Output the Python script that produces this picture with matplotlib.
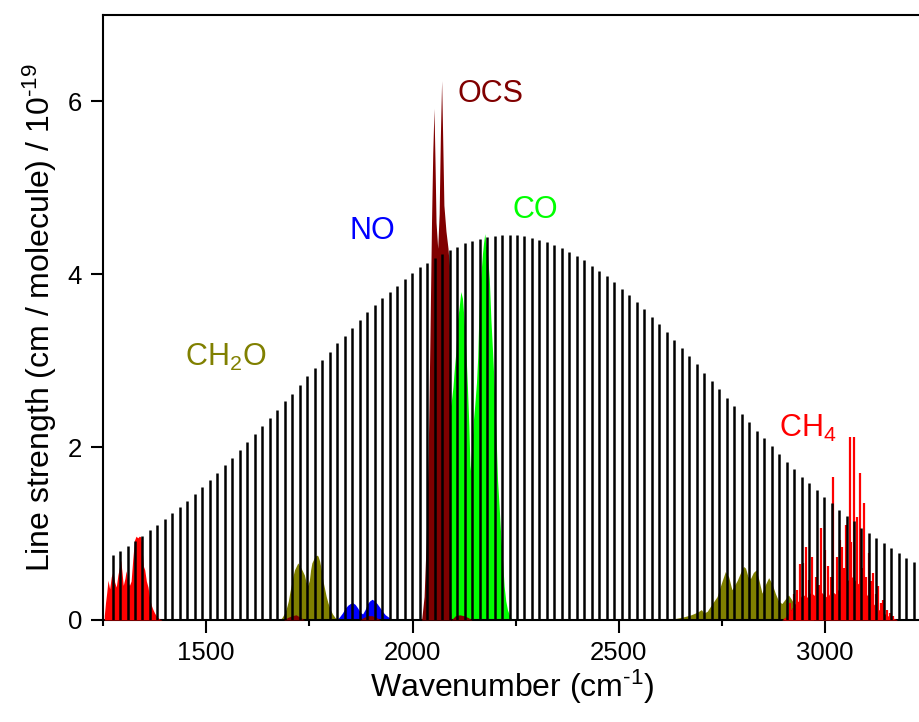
import matplotlib
matplotlib.use("Agg")
import matplotlib.pyplot as plt
from matplotlib.ticker import MultipleLocator

plt.rcParams['font.family'] = ['Liberation Sans', 'DejaVu Sans']
plt.rcParams['mathtext.fontset'] = 'custom'
plt.rcParams['mathtext.rm'] = 'Liberation Sans'
plt.rcParams['mathtext.it'] = 'Liberation Sans'

# frequency comb lines (position in cm-1, height)
comb_x = [1273.0, 1291.2, 1309.3, 1327.5, 1345.6, 1363.8, 1381.9, 1400.1, 1418.2, 1436.4,
          1454.5, 1472.7, 1490.8, 1509.0, 1527.1, 1545.3, 1563.4, 1581.6, 1599.7, 1617.9,
          1636.0, 1654.2, 1672.3, 1690.5, 1708.6, 1726.8, 1744.9, 1763.1, 1781.2, 1799.4,
          1817.5, 1835.7, 1853.8, 1872.0, 1890.1, 1908.3, 1926.4, 1944.6, 1962.7, 1980.9,
          1999.0, 2017.2, 2035.3, 2053.5, 2071.6, 2089.8, 2107.9, 2126.1, 2144.2, 2162.4,
          2180.5, 2198.7, 2216.8, 2235.0, 2253.1, 2271.3, 2289.4, 2307.6, 2325.7, 2343.9,
          2362.0, 2380.2, 2398.3, 2416.5, 2434.6, 2452.8, 2470.9, 2489.1, 2507.2, 2525.4,
          2543.5, 2561.7, 2579.8, 2598.0, 2616.1, 2634.3, 2652.4, 2670.6, 2688.7, 2706.9,
          2725.0, 2743.2, 2761.3, 2779.5, 2797.6, 2815.8, 2833.9, 2852.1, 2870.2, 2888.4,
          2906.5, 2924.7, 2942.8, 2961.0, 2979.1, 2997.3, 3015.4, 3033.6, 3051.7, 3069.9,
          3088.0, 3106.2, 3124.3, 3142.5, 3160.6, 3178.8, 3196.9, 3215.1]
comb_h = [0.75, 0.80, 0.86, 0.91, 0.97, 1.04, 1.10, 1.17, 1.24, 1.31,
          1.38, 1.46, 1.54, 1.62, 1.70, 1.79, 1.88, 1.97, 2.06, 2.15,
          2.24, 2.34, 2.43, 2.53, 2.62, 2.72, 2.82, 2.91, 3.01, 3.10,
          3.20, 3.29, 3.38, 3.47, 3.56, 3.64, 3.72, 3.80, 3.87, 3.94,
          4.01, 4.08, 4.13, 4.19, 4.24, 4.28, 4.32, 4.36, 4.39, 4.41,
          4.43, 4.44, 4.45, 4.45, 4.45, 4.44, 4.42, 4.40, 4.37, 4.34,
          4.30, 4.26, 4.21, 4.16, 4.10, 4.04, 3.98, 3.91, 3.83, 3.76,
          3.68, 3.60, 3.51, 3.42, 3.33, 3.24, 3.15, 3.05, 2.96, 2.86,
          2.77, 2.67, 2.57, 2.48, 2.38, 2.29, 2.19, 2.10, 2.01, 1.92,
          1.83, 1.75, 1.66, 1.58, 1.50, 1.42, 1.35, 1.27, 1.20, 1.14,
          1.07, 1.01, 0.95, 0.89, 0.83, 0.77, 0.72, 0.67]

# CH4, low band
ch4_lo_x = [1253, 1256, 1259, 1262, 1266, 1270, 1274, 1278, 1282, 1286, 1290, 1293, 1296,
            1299, 1303, 1306, 1310, 1314, 1318, 1322, 1326, 1330, 1334, 1338, 1342, 1345,
            1348, 1351, 1355, 1359, 1363, 1367, 1371, 1375, 1380, 1387, 1393]
ch4_lo_y = [0.05, 0.20, 0.32, 0.46, 0.36, 0.50, 0.56, 0.44, 0.38, 0.52, 0.62, 0.69, 0.55,
            0.40, 0.48, 0.57, 0.44, 0.40, 0.45, 0.70, 0.92, 0.97, 0.95, 0.97, 0.96, 0.80,
            0.62, 0.58, 0.45, 0.38, 0.25, 0.17, 0.12, 0.08, 0.04, 0.01, 0]

# CH4, high band: filled base plus lines
ch4_hi_x = [2895, 2905, 2915, 2925, 2935, 2945, 2955, 2965, 2975, 2985, 2995, 3005, 3015,
            3025, 3035, 3045, 3055, 3065, 3075, 3085, 3095, 3105, 3115, 3125, 3135, 3145,
            3155, 3165, 3175]
ch4_hi_y = [0, 0.04, 0.10, 0.18, 0.22, 0.30, 0.26, 0.32, 0.28, 0.35, 0.30, 0.26, 0.34,
            0.30, 0.38, 0.42, 0.46, 0.50, 0.44, 0.40, 0.34, 0.26, 0.20, 0.14, 0.10, 0.07,
            0.04, 0.02, 0]
ch4_line_x = [2915, 2925, 2932, 2938, 2946, 2954, 2960, 2969, 2978, 2984, 2990, 3000, 3008,
              3013, 3019, 3028, 3035, 3041, 3046, 3050, 3059, 3063, 3069, 3078, 3085, 3090,
              3095, 3100, 3106, 3111, 3117, 3123, 3129, 3135, 3141, 3150, 3157, 3165]
ch4_line_y = [0.20, 0.30, 0.35, 0.65, 0.66, 0.85, 0.46, 0.73, 0.50, 0.40, 1.07, 0.81, 0.62,
              0.50, 1.65, 0.73, 0.92, 0.85, 0.60, 1.10, 2.12, 0.90, 2.12, 1.19, 1.70, 0.60,
              1.35, 0.50, 0.77, 0.45, 0.54, 0.30, 0.39, 0.20, 0.23, 0.12, 0.08, 0.05]

# CH2O
ch2o_x = [1678, 1684, 1690, 1694, 1699, 1703, 1706, 1710, 1714, 1718, 1722, 1726, 1730,
          1734, 1738, 1742, 1746, 1750, 1753, 1756, 1760, 1764, 1768, 1771, 1775, 1779,
          1783, 1787, 1791, 1795, 1800, 1806, 1812, 1820]
ch2o_y = [0, 0.03, 0.08, 0.13, 0.22, 0.33, 0.40, 0.50, 0.58, 0.62, 0.66, 0.63, 0.60,
          0.56, 0.52, 0.44, 0.40, 0.46, 0.58, 0.66, 0.70, 0.74, 0.75, 0.74, 0.68, 0.58,
          0.45, 0.36, 0.27, 0.20, 0.13, 0.07, 0.03, 0]
ch2o_hi_x = [2615, 2640, 2660, 2675, 2690, 2700, 2706, 2714, 2725, 2738, 2748, 2758, 2766,
             2774, 2780, 2787, 2795, 2802, 2807, 2813, 2819, 2826, 2833, 2840, 2847, 2854,
             2863, 2871, 2879, 2887, 2895, 2903, 2911, 2918, 2924, 2932, 2940, 2948, 2956,
             2970, 2990, 3010, 3040, 3080, 3110]
ch2o_hi_y = [0, 0.02, 0.04, 0.06, 0.09, 0.12, 0.08, 0.10, 0.18, 0.27, 0.42, 0.56, 0.50,
             0.35, 0.40, 0.46, 0.55, 0.62, 0.60, 0.50, 0.48, 0.55, 0.58, 0.45, 0.31, 0.40,
             0.49, 0.42, 0.31, 0.22, 0.19, 0.24, 0.29, 0.24, 0.19, 0.15, 0.13, 0.10, 0.08,
             0.06, 0.05, 0.04, 0.03, 0.02, 0]

# NO
no_x = [1815, 1822, 1830, 1836, 1843, 1849, 1855, 1861, 1867, 1873, 1879, 1885, 1891,
        1896, 1902, 1908, 1914, 1920, 1927, 1934, 1940, 1946, 1952]
no_y = [0, 0.03, 0.08, 0.13, 0.17, 0.19, 0.20, 0.18, 0.14, 0.09, 0.07, 0.12, 0.19,
        0.22, 0.24, 0.22, 0.19, 0.15, 0.10, 0.06, 0.04, 0.02, 0]

# CO
co_x = [2089.5, 2091, 2094.5, 2098, 2101, 2105, 2109, 2113, 2117, 2121, 2125, 2129, 2133,
        2136.5, 2139.5, 2143, 2147.5, 2151, 2155, 2158, 2161.5, 2165, 2169.5, 2172, 2175,
        2178, 2181.5, 2186, 2190, 2194, 2198, 2202, 2206, 2210, 2214, 2218, 2222, 2226,
        2230, 2236, 2242]
co_y = [0, 2.45, 2.55, 2.70, 2.89, 3.10, 3.47, 3.62, 3.80, 3.72, 3.47, 3.15, 2.70, 2.25,
        1.73, 1.95, 2.31, 2.50, 2.75, 3.05, 3.66, 3.95, 4.24, 4.36, 4.47, 4.35, 4.24, 3.95,
        3.47, 3.10, 2.70, 2.20, 1.62, 1.30, 0.96, 0.70, 0.39, 0.22, 0.12, 0.04, 0]

# OCS
ocs_x = [2022, 2028, 2033, 2038, 2042, 2046, 2049, 2052, 2054.5, 2057, 2061, 2064.5, 2067.5,
         2070.5, 2073, 2076, 2081, 2086, 2089, 2090, 2091, 2093]
ocs_y = [0, 0.27, 0.9, 1.93, 3.2, 4.6, 5.4, 5.92, 5.3, 4.6, 4.3, 4.7, 5.6, 6.24, 5.6, 4.8,
         4.5, 4.3, 4.1, 1.5, 0.3, 0]
ocs_weak_x = [1688, 1698, 1708, 1718, 1728, 1738, 1872, 1882, 1892, 1902, 1912, 1922, 2094,
              2104, 2114, 2124, 2134, 2144, 2900, 2912, 2924, 2936, 2948, 2960, 2972]
ocs_weak_y = [0, 0.03, 0.05, 0.06, 0.03, 0, 0, 0.03, 0.05, 0.05, 0.03, 0, 0, 0.05, 0.06,
              0.05, 0.03, 0, 0, 0.08, 0.17, 0.14, 0.20, 0.10, 0]

c_ch4 = '#ff0000'
c_ch2o = '#808000'
c_no = '#0000ff'
c_co = '#00ff00'
c_ocs = '#800000'

fig = plt.figure(figsize=(9.2, 7.22), dpi=100)
ax = fig.add_axes([0.112, 0.1413, 0.889, 0.8379])

ax.fill_between(ch2o_x, ch2o_y, 0, color=c_ch2o, lw=0, zorder=2)
ax.fill_between(ch2o_hi_x, ch2o_hi_y, 0, color=c_ch2o, lw=0, zorder=2)
ax.fill_between(no_x, no_y, 0, color=c_no, lw=0, zorder=2)
ax.fill_between(co_x, co_y, 0, color=c_co, lw=0, zorder=2)
ax.fill_between(ocs_x, ocs_y, 0, color=c_ocs, lw=0, zorder=3)
ax.fill_between(ocs_weak_x, ocs_weak_y, 0, color=c_ocs, lw=0, zorder=3)
ax.fill_between(ch4_lo_x, ch4_lo_y, 0, color=c_ch4, lw=0, zorder=3)
ax.fill_between(ch4_hi_x, ch4_hi_y, 0, color=c_ch4, lw=0, zorder=3)
ax.vlines(ch4_line_x, 0, ch4_line_y, color=c_ch4, lw=1.6, zorder=3)

ax.vlines(comb_x, 0, comb_h, color='black', lw=1.8, zorder=4)

fs_lab = 22
ax.text(2110, 6.09, 'OCS', color=c_ocs, fontsize=fs_lab, va='center', ha='left')
ax.text(2243, 4.74, 'CO', color=c_co, fontsize=fs_lab, va='center', ha='left')
ax.text(1848, 4.50, 'NO', color=c_no, fontsize=fs_lab, va='center', ha='left')
ax.text(1449, 3.04, r'CH$_{\mathregular{2}}$O', color=c_ch2o, fontsize=fs_lab,
        va='center', ha='left')
ax.text(2887, 2.22, r'CH$_{\mathregular{4}}$', color=c_ch4, fontsize=fs_lab,
        va='center', ha='left')

ax.set_xlim(1250, 3232)
ax.set_ylim(0, 7)
ax.xaxis.set_major_locator(MultipleLocator(500))
ax.xaxis.set_minor_locator(MultipleLocator(250))
ax.yaxis.set_major_locator(MultipleLocator(2))
ax.spines['right'].set_visible(False)
for s in ['left', 'bottom', 'top']:
    ax.spines[s].set_linewidth(1.5)
ax.tick_params(axis='both', which='major', direction='out', length=9, width=1.5,
               labelsize=18.5, pad=6)
ax.tick_params(axis='x', which='minor', direction='out', length=4.5, width=1.5)
ax.tick_params(top=False, right=False, which='both')

ax.set_xlabel(r'Wavenumber (cm$^{\text{-1}}$)', fontsize=23, labelpad=2)
ax.set_ylabel(r'Line strength (cm / molecule) / 10$^{\text{-19}}$', fontsize=23,
              labelpad=6)

fig.savefig('out.png', dpi=100)
